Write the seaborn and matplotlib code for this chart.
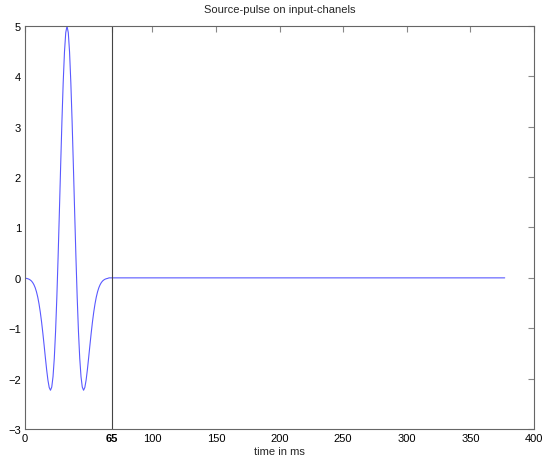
import matplotlib
matplotlib.use("Agg")
import matplotlib.pyplot as plt
import seaborn as sns
import pandas as pd

# time samples (ms)
time_ms = [0, 1, 2, 3, 4, 5, 6, 7, 8, 9, 10, 11, 12, 13, 14, 15, 16, 17, 18, 19, 20,
           21, 22, 23, 24, 25, 26, 27, 28, 29, 30, 31, 32, 33, 34, 35, 36, 37, 38, 39,
           40, 41, 42, 43, 44, 45, 46, 47, 48, 49, 50, 51, 52, 53, 54, 55, 56, 57, 58,
           59, 60, 61, 62, 63, 64, 65, 66, 377]
amplitude = [-0.006, -0.010, -0.016, -0.025, -0.040, -0.061, -0.092, -0.136, -0.196, -0.277,
             -0.382, -0.516, -0.680, -0.874, -1.096, -1.337, -1.586, -1.825, -2.031, -2.176,
             -2.231, -2.168, -1.962, -1.597, -1.069, -0.388, 0.419, 1.309, 2.226, 3.105,
             3.878, 4.483, 4.868, 5.000, 4.868, 4.483, 3.878, 3.105, 2.226, 1.309,
             0.419, -0.388, -1.069, -1.597, -1.962, -2.168, -2.231, -2.176, -2.031, -1.825,
             -1.586, -1.337, -1.096, -0.874, -0.680, -0.516, -0.382, -0.277, -0.196, -0.136,
             -0.092, -0.061, -0.040, -0.025, -0.016, -0.010, 0.0, 0.0]

marker_time = 68          # vertical marker position
xtick_pos = [0, 68, 100, 150, 200, 250, 300, 350, 400]
xtick_labels = ["0", "65", "100", "150", "200", "250", "300", "350", "400"]
ytick_pos = [-3, -2, -1, 0, 1, 2, 3, 4, 5]

sns.set_style("white")
plt.rcParams["font.family"] = ["Liberation Sans", "DejaVu Sans"]

fig = plt.figure(figsize=(5.44, 4.64), dpi=100)
ax = fig.add_axes([0.046, 0.0733, 0.9356, 0.8685])

df = pd.DataFrame({"t": time_ms, "a": amplitude})
sns.lineplot(data=df, x="t", y="a", ax=ax, color="#0000ff", linewidth=0.8, alpha=0.65)
ax.axvline(marker_time, color="#444444", linewidth=0.8)

ax.set_xlim(0, 400)
ax.set_ylim(-3, 5)
ax.set_xticks(xtick_pos)
ax.set_xticklabels(xtick_labels)
ax.set_yticks(ytick_pos)
ax.get_xticklabels()[1].set_fontweight("bold")

ax.tick_params(direction="in", length=4, width=0.8, colors="#888888",
               labelcolor="black", labelsize=8, top=True, right=True, pad=3)
for s in ax.spines.values():
    s.set_color("#666666")
    s.set_linewidth(0.8)

ax.set_xlabel("time in ms", fontsize=8, labelpad=2)
ax.set_ylabel("")
ax.set_title("Source-pulse on input-chanels", fontsize=8, pad=10)

fig.savefig("out.png", dpi=100)
